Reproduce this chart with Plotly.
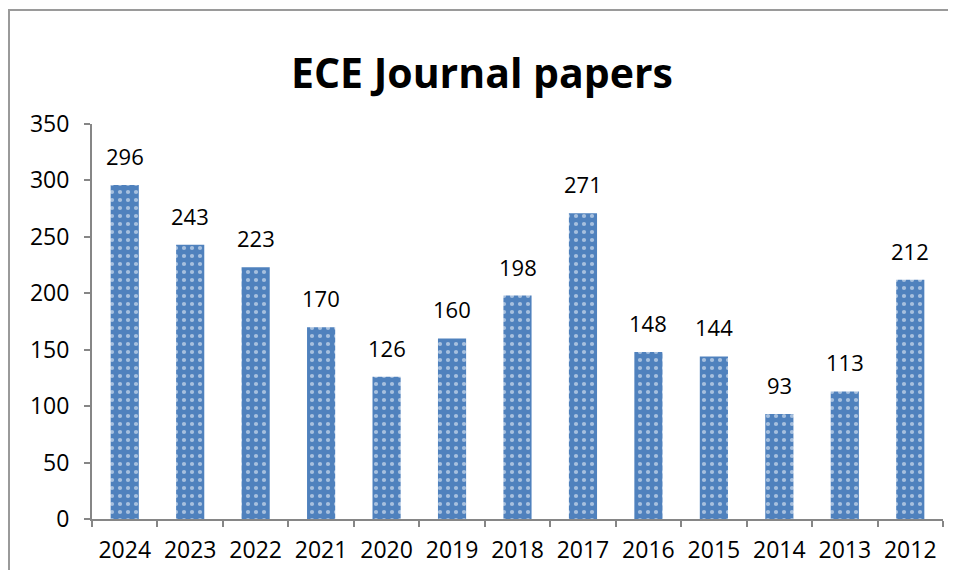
import plotly.graph_objects as go

years = ["2024", "2023", "2022", "2021", "2020", "2019", "2018", "2017", "2016", "2015", "2014", "2013", "2012"]
papers = [296, 243, 223, 170, 126, 160, 198, 271, 148, 144, 93, 113, 212]
y_ticks = [0, 50, 100, 150, 200, 250, 300, 350]

FONT = "'Open Sans', sans-serif"
OFF = 8  # default page body margin

fig = go.Figure(go.Bar(
    x=years, y=papers,
    marker=dict(
        color="#4F81BD",
        line=dict(width=0),
        pattern=dict(shape=".", fgcolor="white", bgcolor="#4F81BD", size=8, solidity=0.22, fillmode="overlay"),
    ),
    hoverinfo="x+y",
))

for i, v in enumerate(papers):
    fig.add_annotation(x=i, y=v, xref="x", yref="y", text=str(v), showarrow=False, yanchor="bottom",
                       yshift=12, font=dict(size=22, family=FONT, color="black"))

W, H = 956 - 2 * OFF, 578 - 2 * OFF
L = 92 - OFF
R = W - (943 - OFF)
T = 124 - OFF
B = H - (519 - OFF)
pw, ph = W - L - R, H - T - B

fig.update_layout(
    width=W, height=H,
    margin=dict(l=L, r=R, t=T, b=B, autoexpand=False),
    paper_bgcolor="white", plot_bgcolor="white",
    bargap=0.57,
    showlegend=False,
    title=dict(text="<b>ECE Journal papers</b>", x=(482 - OFF) / W, xanchor="center",
               y=1 - (74 - OFF) / H, yanchor="middle",
               font=dict(size=41, family=FONT, color="black")),
    font=dict(family=FONT, size=23, color="black"),
    xaxis=dict(type="category", categoryorder="array", categoryarray=years,
               range=[-0.5, len(years) - 0.5], autorange=False,
               showgrid=False, showline=True, linecolor="#868686", linewidth=2,
               ticks="outside", tickson="boundaries", ticklen=6, tickcolor="#868686", tickwidth=2,
               tickfont=dict(size=23), tickangle=0, automargin=False, ticklabelstandoff=9),
    yaxis=dict(range=[0, 350], autorange=False, tickvals=y_ticks, showgrid=False, showline=True,
               linecolor="#868686", linewidth=2, ticks="outside", ticklen=6,
               tickcolor="#868686", tickwidth=2, tickfont=dict(size=23), zeroline=False,
               automargin=False, ticklabelstandoff=10),
    shapes=[dict(type="rect", xref="paper", yref="paper",
                 x0=(9 - OFF - L) / pw, x1=(W + 20 - L) / pw,
                 y0=-(B + 20) / ph, y1=(H - B - (10 - OFF)) / ph,
                 line=dict(color="#9a9a9a", width=2), fillcolor="rgba(0,0,0,0)", layer="below")],
)

fig.write_html("out.html")
